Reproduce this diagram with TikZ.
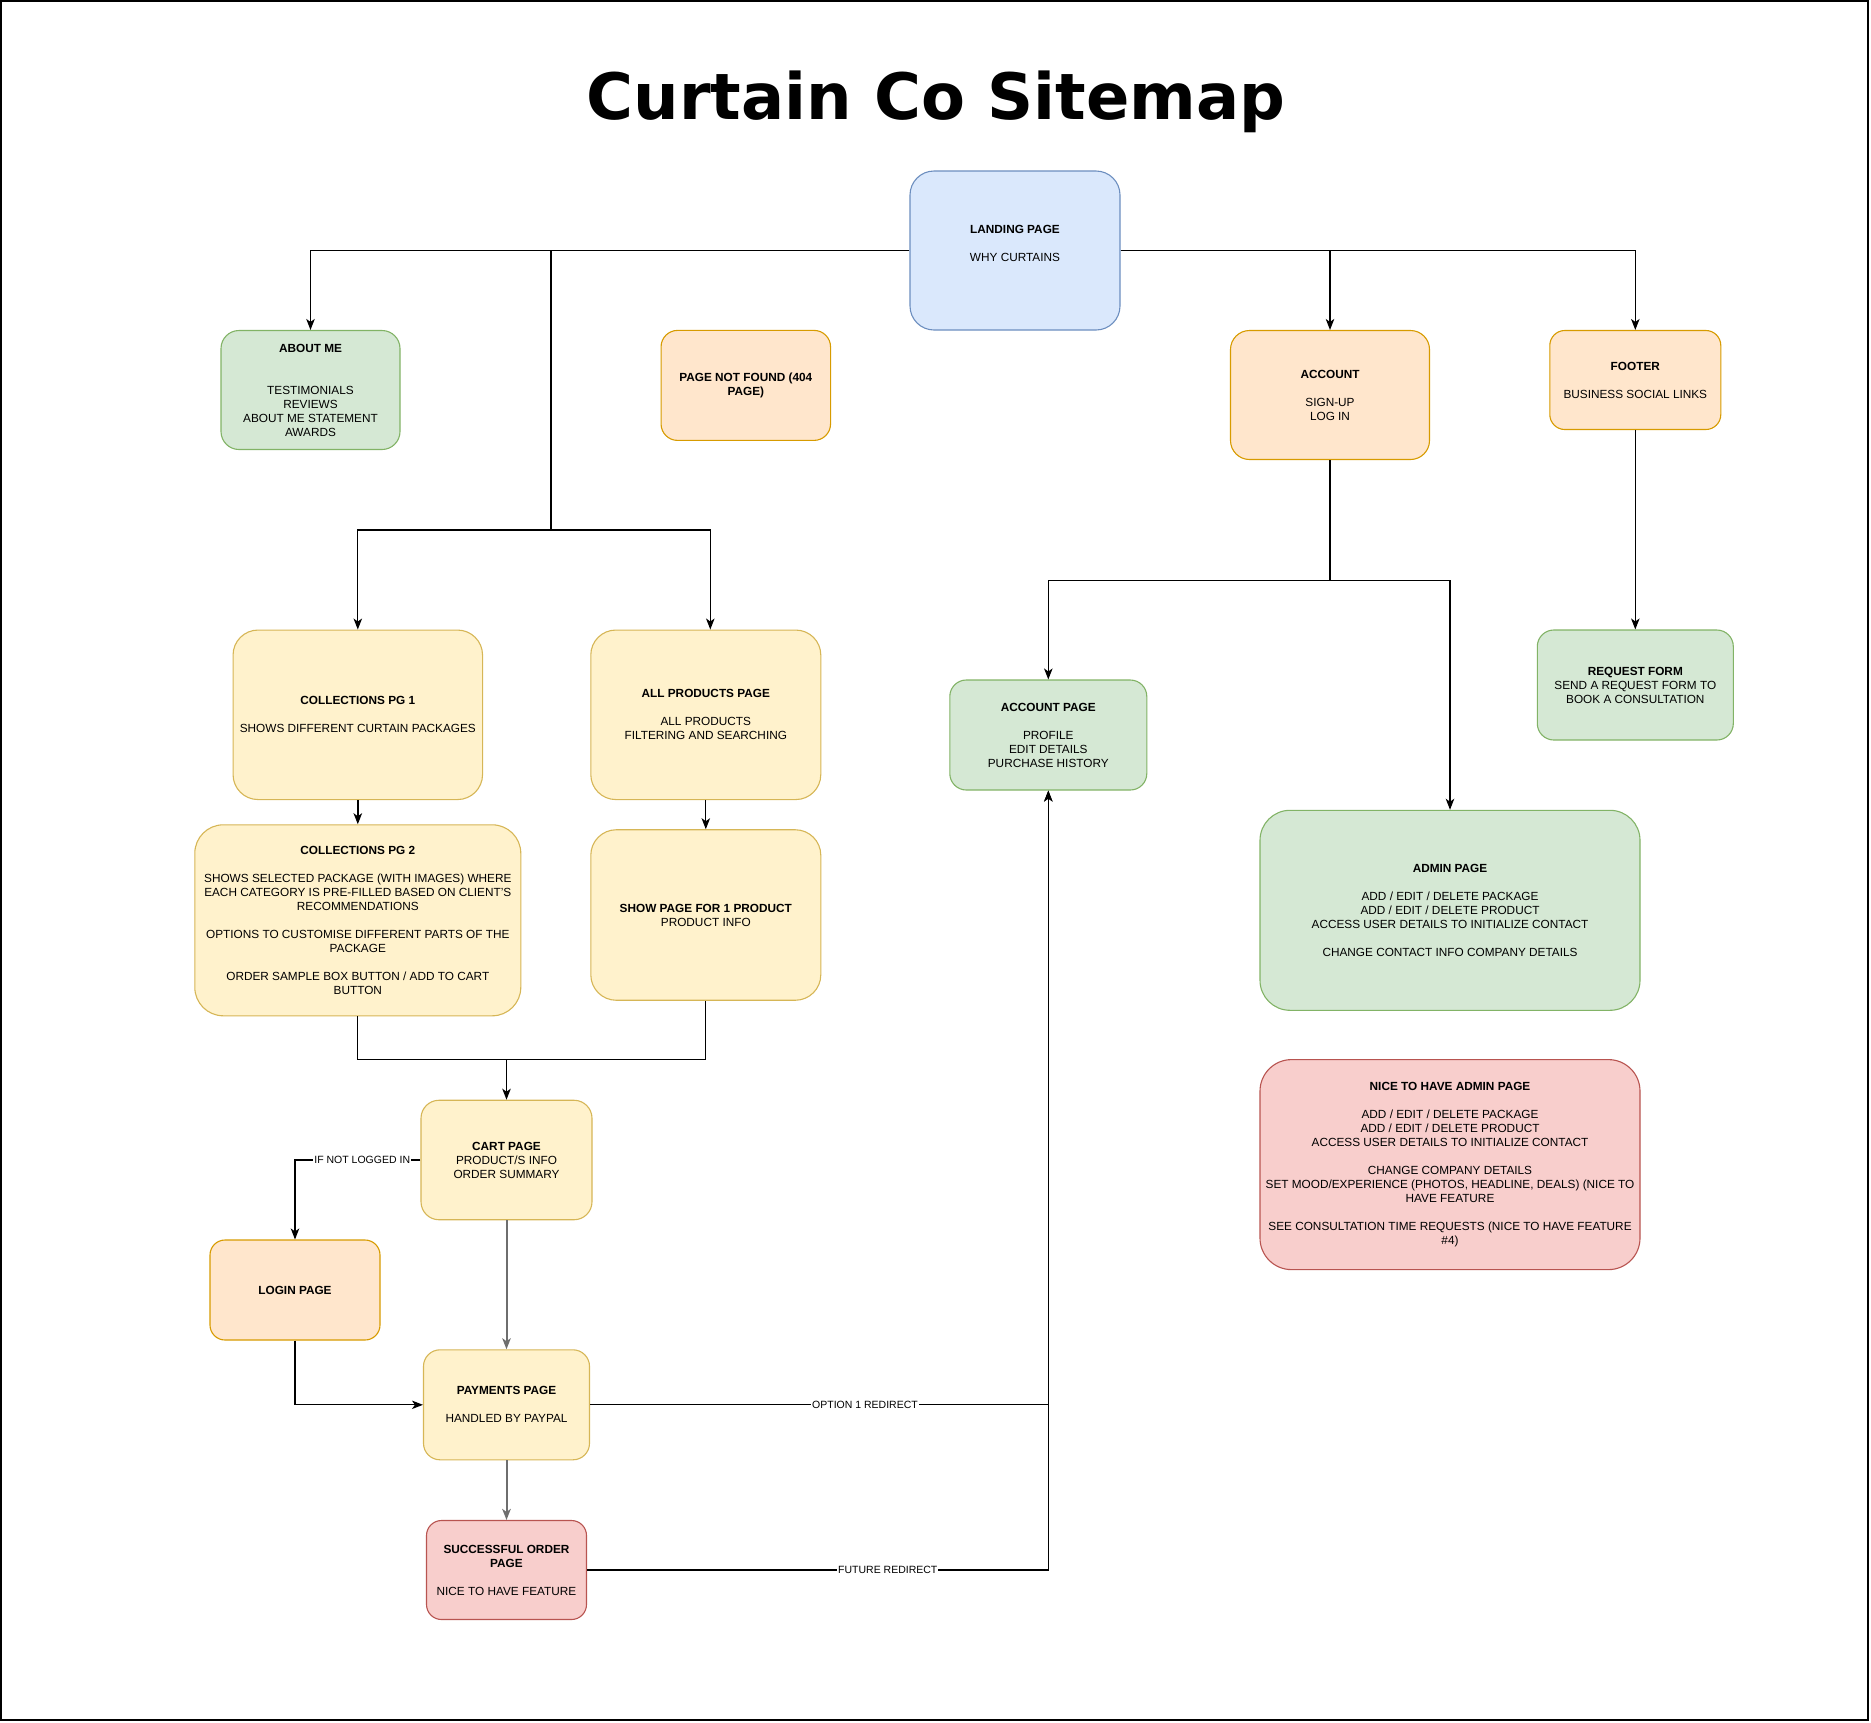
\documentclass[tikz,border=0pt]{standalone}
\usepackage{fontspec}
\setmainfont{Liberation Sans}
\newfontfamily\titlefont{DejaVu Sans}
\usetikzlibrary{arrows.meta,calc}
\definecolor{bluef}{HTML}{DAE8FC}\definecolor{blued}{HTML}{6C8EBF}
\definecolor{greenf}{HTML}{D5E8D4}\definecolor{greend}{HTML}{82B366}
\definecolor{orangef}{HTML}{FFE6CC}\definecolor{oranged}{HTML}{D79B00}
\definecolor{yellowf}{HTML}{FFF2CC}\definecolor{yellowd}{HTML}{D6B656}
\definecolor{redf}{HTML}{F8CECC}\definecolor{redd}{HTML}{B85450}
\definecolor{edgegray}{HTML}{6E6E6E}
\begin{document}
\begin{tikzpicture}[x=1pt,y=-1pt,
  box/.style={draw, line width=1.1pt, inner sep=0pt, align=center, text=black,
    font=\fontsize{11.8}{14}\selectfont},
  bluebox/.style={box, fill=bluef, draw=blued},
  greenbox/.style={box, fill=greenf, draw=greend},
  orangebox/.style={box, fill=orangef, draw=oranged},
  yellowbox/.style={box, fill=yellowf, draw=yellowd},
  redbox/.style={box, fill=redf, draw=redd},
  conn/.style={line width=1.1pt, draw=black},
  arr/.style={conn, -{Stealth[length=11pt,width=8.5pt,inset=3pt]}},
  grayarr/.style={arr, line width=2pt, draw=edgegray},
  lbl/.style={fill=white, inner sep=1pt, text=black, font=\fontsize{10.5}{12}\selectfont}
]
\useasboundingbox (0,0) rectangle (1871,1722);
\draw[line width=2pt] (1,1) rectangle (1868,1720);

\node[anchor=base, font=\titlefont\bfseries\fontsize{64}{70}\selectfont] (title) at (936,119) {Curtain Co Sitemap};

% nodes
\node[bluebox, minimum width=210pt, minimum height=159pt, rounded corners=24pt] (land) at (1015,250.5)
  {\textbf{LANDING PAGE}\\[14pt]WHY CURTAINS\\\mbox{}};
\node[greenbox, minimum width=179pt, minimum height=119pt, rounded corners=18pt] (about) at (310.5,390)
  {\textbf{ABOUT ME}\\[28pt]TESTIMONIALS\\REVIEWS\\ABOUT ME STATEMENT\\AWARDS};
\node[orangebox, minimum width=169.5pt, minimum height=110pt, rounded corners=16.5pt] (pnf) at (745.8,385.4)
  {\textbf{PAGE NOT FOUND (404}\\\textbf{PAGE)}};
\node[orangebox, minimum width=199pt, minimum height=129pt, rounded corners=19pt] (acct) at (1330,395)
  {\textbf{ACCOUNT}\\[14pt]SIGN-UP\\LOG IN};
\node[orangebox, minimum width=171pt, minimum height=99pt, rounded corners=15pt] (footer) at (1635.3,380)
  {\textbf{FOOTER}\\[14pt]BUSINESS SOCIAL LINKS};
\node[yellowbox, minimum width=249.5pt, minimum height=169.5pt, rounded corners=25pt] (pg1) at (357.8,714.8)
  {\textbf{COLLECTIONS PG 1}\\[14pt]SHOWS DIFFERENT CURTAIN PACKAGES};
\node[yellowbox, minimum width=230pt, minimum height=169.5pt, rounded corners=25pt] (allp) at (705.8,714.8)
  {\textbf{ALL PRODUCTS PAGE}\\[14pt]ALL PRODUCTS\\FILTERING AND SEARCHING};
\node[greenbox, minimum width=197pt, minimum height=110pt, rounded corners=16.5pt] (acctpg) at (1048.3,735)
  {\textbf{ACCOUNT PAGE}\\[14pt]PROFILE\\EDIT DETAILS\\PURCHASE HISTORY};
\node[greenbox, minimum width=196pt, minimum height=110pt, rounded corners=16.5pt] (req) at (1635.3,685)
  {\textbf{REQUEST FORM}\\SEND A REQUEST FORM TO\\BOOK A CONSULTATION};
\node[yellowbox, minimum width=326pt, minimum height=191pt, rounded corners=28.5pt] (pg2) at (357.8,920.3)
  {\textbf{COLLECTIONS PG 2}\\[14pt]SHOWS SELECTED PACKAGE (WITH IMAGES) WHERE\\EACH CATEGORY IS PRE-FILLED BASED ON CLIENT'S\\RECOMMENDATIONS\\[14pt]OPTIONS TO CUSTOMISE DIFFERENT PARTS OF THE\\PACKAGE\\[14pt]ORDER SAMPLE BOX BUTTON / ADD TO CART\\BUTTON};
\node[yellowbox, minimum width=230pt, minimum height=170.5pt, rounded corners=25.5pt] (show) at (705.8,915)
  {\textbf{SHOW PAGE FOR 1 PRODUCT}\\PRODUCT INFO};
\node[greenbox, minimum width=380pt, minimum height=200pt, rounded corners=30pt] (admin) at (1450,910.3)
  {\textbf{ADMIN PAGE}\\[14pt]ADD / EDIT / DELETE PACKAGE\\ADD / EDIT / DELETE PRODUCT\\ACCESS USER DETAILS TO INITIALIZE CONTACT\\[14pt]CHANGE CONTACT INFO COMPANY DETAILS};
\node[redbox, minimum width=380pt, minimum height=210pt, rounded corners=31.5pt] (nice) at (1450,1164.6)
  {\textbf{NICE TO HAVE ADMIN PAGE}\\[14pt]ADD / EDIT / DELETE PACKAGE\\ADD / EDIT / DELETE PRODUCT\\ACCESS USER DETAILS TO INITIALIZE CONTACT\\[14pt]CHANGE COMPANY DETAILS\\SET MOOD/EXPERIENCE (PHOTOS, HEADLINE, DEALS) (NICE TO\\HAVE FEATURE\\[14pt]SEE CONSULTATION TIME REQUESTS (NICE TO HAVE FEATURE\\\#4)};
\node[yellowbox, minimum width=171pt, minimum height=119.5pt, rounded corners=18pt] (cart) at (506.5,1160)
  {\textbf{CART PAGE}\\PRODUCT/S INFO\\ORDER SUMMARY};
\node[orangebox, minimum width=170pt, minimum height=100pt, rounded corners=15pt] (login) at (295,1290)
  {\textbf{LOGIN PAGE}};
\node[yellowbox, minimum width=166pt, minimum height=110pt, rounded corners=16.5pt] (pay) at (506.5,1404.8)
  {\textbf{PAYMENTS PAGE}\\[14pt]HANDLED BY PAYPAL};
\node[redbox, minimum width=160pt, minimum height=99pt, rounded corners=15pt] (succ) at (506.5,1570)
  {\textbf{SUCCESSFUL ORDER}\\\textbf{PAGE}\\[14pt]NICE TO HAVE FEATURE};

% junctions
\coordinate (j1) at (551,250.5);
\coordinate (j2) at (551,530);
\coordinate (j3) at (1330,580.3);
\coordinate (j4) at (506.5,1059.6);

% connectors
\draw[arr] (land.west) -| (about.north);
\draw[conn] (j1) -- (j2);
\draw[arr] (j2) -| (pg1.north);
\draw[arr] (j2) -| ([xshift=4.5pt]allp.north);
\draw[arr] (land.east) -| (acct.north);
\draw[arr] (land.east) -| (footer.north);
\draw[conn] (acct.south) -- (j3);
\draw[arr] (j3) -| (acctpg.north);
\draw[arr] (j3) -| (admin.north);
\draw[arr] (footer.south) -- (req.north);
\draw[arr, line width=1.8pt] (pg1.south) -- (pg2.north);
\draw[arr] (allp.south) -- (show.north);
\draw[conn] (pg2.south) |- (j4);
\draw[conn] (show.south) |- (j4);
\draw[arr, line width=1.6pt] (j4) -- (cart.north);
\draw[arr] (cart.west) -| node[lbl, pos=0.232] (l1) {IF NOT LOGGED IN} (login.north);
\draw[grayarr] (cart.south) -- (pay.north);
\draw[arr] (login.south) |- (pay.west);
\draw[arr] (pay.east) -| node[lbl, pos=0.3] (l2) {OPTION 1 REDIRECT} (acctpg.south);
\draw[arr] (succ.east) -| node[lbl, pos=0.326] (l3) {FUTURE REDIRECT} (acctpg.south);
\draw[grayarr] (pay.south) -- (succ.north);
\end{tikzpicture}
\end{document}
